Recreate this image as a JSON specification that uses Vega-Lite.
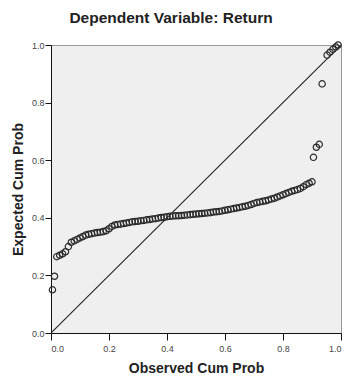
{
  "$schema": "https://vega.github.io/schema/vega-lite/v6.json",
  "autosize": "none",
  "width": 290,
  "height": 288,
  "padding": {"left": 51, "top": 45, "right": 5, "bottom": 45},
  "background": "white",
  "config": {
    "view": {"fill": "#efefef", "stroke": "#999999", "strokeWidth": 1},
    "font": "Liberation Sans"
  },
  "title": {
    "text": "Dependent Variable: Return",
    "fontSize": 15.5,
    "fontWeight": "bold",
    "color": "#222222",
    "anchor": "middle",
    "dx": -25,
    "offset": 13,
    "font": "Liberation Sans"
  },
  "datasets": {
    "pts": [
      {"obs": 0.005, "exp": 0.15}, {"obs": 0.012, "exp": 0.197}, {"obs": 0.02, "exp": 0.265},
      {"obs": 0.03, "exp": 0.27}, {"obs": 0.04, "exp": 0.275}, {"obs": 0.05, "exp": 0.282},
      {"obs": 0.06, "exp": 0.3}, {"obs": 0.07, "exp": 0.315}, {"obs": 0.08, "exp": 0.32},
      {"obs": 0.09, "exp": 0.325}, {"obs": 0.1, "exp": 0.33}, {"obs": 0.11, "exp": 0.335},
      {"obs": 0.12, "exp": 0.34}, {"obs": 0.13, "exp": 0.343}, {"obs": 0.14, "exp": 0.345},
      {"obs": 0.15, "exp": 0.347}, {"obs": 0.16, "exp": 0.349}, {"obs": 0.17, "exp": 0.35},
      {"obs": 0.18, "exp": 0.352}, {"obs": 0.19, "exp": 0.355}, {"obs": 0.2, "exp": 0.362},
      {"obs": 0.21, "exp": 0.37}, {"obs": 0.22, "exp": 0.375}, {"obs": 0.23, "exp": 0.377},
      {"obs": 0.24, "exp": 0.378}, {"obs": 0.25, "exp": 0.38}, {"obs": 0.26, "exp": 0.382},
      {"obs": 0.27, "exp": 0.384}, {"obs": 0.28, "exp": 0.386}, {"obs": 0.29, "exp": 0.387},
      {"obs": 0.3, "exp": 0.388}, {"obs": 0.31, "exp": 0.39}, {"obs": 0.32, "exp": 0.391},
      {"obs": 0.33, "exp": 0.393}, {"obs": 0.34, "exp": 0.394}, {"obs": 0.35, "exp": 0.396},
      {"obs": 0.36, "exp": 0.397}, {"obs": 0.37, "exp": 0.399}, {"obs": 0.38, "exp": 0.401},
      {"obs": 0.39, "exp": 0.402}, {"obs": 0.4, "exp": 0.404}, {"obs": 0.41, "exp": 0.405},
      {"obs": 0.42, "exp": 0.406}, {"obs": 0.43, "exp": 0.407}, {"obs": 0.44, "exp": 0.407},
      {"obs": 0.45, "exp": 0.408}, {"obs": 0.46, "exp": 0.409}, {"obs": 0.47, "exp": 0.41},
      {"obs": 0.48, "exp": 0.411}, {"obs": 0.49, "exp": 0.412}, {"obs": 0.5, "exp": 0.413},
      {"obs": 0.51, "exp": 0.414}, {"obs": 0.52, "exp": 0.415}, {"obs": 0.53, "exp": 0.416},
      {"obs": 0.54, "exp": 0.417}, {"obs": 0.55, "exp": 0.418}, {"obs": 0.56, "exp": 0.42},
      {"obs": 0.57, "exp": 0.421}, {"obs": 0.58, "exp": 0.422}, {"obs": 0.59, "exp": 0.424},
      {"obs": 0.6, "exp": 0.426}, {"obs": 0.61, "exp": 0.428}, {"obs": 0.62, "exp": 0.43},
      {"obs": 0.63, "exp": 0.432}, {"obs": 0.64, "exp": 0.434}, {"obs": 0.65, "exp": 0.436},
      {"obs": 0.66, "exp": 0.438}, {"obs": 0.67, "exp": 0.44}, {"obs": 0.68, "exp": 0.443},
      {"obs": 0.69, "exp": 0.446}, {"obs": 0.7, "exp": 0.45}, {"obs": 0.71, "exp": 0.453},
      {"obs": 0.72, "exp": 0.455}, {"obs": 0.73, "exp": 0.457}, {"obs": 0.74, "exp": 0.459},
      {"obs": 0.75, "exp": 0.462}, {"obs": 0.76, "exp": 0.465}, {"obs": 0.77, "exp": 0.468},
      {"obs": 0.78, "exp": 0.472}, {"obs": 0.79, "exp": 0.476}, {"obs": 0.8, "exp": 0.48},
      {"obs": 0.81, "exp": 0.484}, {"obs": 0.82, "exp": 0.488}, {"obs": 0.83, "exp": 0.492},
      {"obs": 0.84, "exp": 0.495}, {"obs": 0.85, "exp": 0.498}, {"obs": 0.86, "exp": 0.502},
      {"obs": 0.87, "exp": 0.508}, {"obs": 0.88, "exp": 0.515}, {"obs": 0.89, "exp": 0.52},
      {"obs": 0.9, "exp": 0.525}, {"obs": 0.905, "exp": 0.61}, {"obs": 0.915, "exp": 0.645},
      {"obs": 0.925, "exp": 0.655}, {"obs": 0.935, "exp": 0.865}, {"obs": 0.952, "exp": 0.965},
      {"obs": 0.962, "exp": 0.975}, {"obs": 0.972, "exp": 0.985}, {"obs": 0.982, "exp": 0.993},
      {"obs": 0.99, "exp": 1.0}
    ],
    "diag": [
      {"obs": 0, "exp": 0}, {"obs": 1, "exp": 1}
    ]
  },
  "layer": [
    {
      "data": {"name": "diag"},
      "mark": {"type": "line", "color": "#222222", "strokeWidth": 1.1, "clip": true},
      "encoding": {
        "x": {"field": "obs", "type": "quantitative"},
        "y": {"field": "exp", "type": "quantitative"}
      }
    },
    {
      "data": {"name": "pts"},
      "mark": {"type": "point", "shape": "circle", "filled": false, "size": 40, "stroke": "#2a2a2a", "strokeWidth": 1.2, "opacity": 1, "clip": false},
      "encoding": {
        "x": {
          "field": "obs", "type": "quantitative",
          "scale": {"domain": [0, 1], "nice": false, "zero": false},
          "axis": {
            "title": "Observed Cum Prob", "values": [0, 0.2, 0.4, 0.6, 0.8, 1.0], "format": ".1f",
            "grid": false, "domainColor": "#111111", "tickColor": "#111111", "tickSize": 7,
            "labelFontSize": 9, "labelColor": "#444444", "labelPadding": 4,
            "titleFontSize": 14, "titleFontWeight": "bold", "titleColor": "#222222", "titlePadding": 8
          }
        },
        "y": {
          "field": "exp", "type": "quantitative",
          "scale": {"domain": [0, 1], "nice": false, "zero": false},
          "axis": {
            "title": "Expected Cum Prob", "values": [0, 0.2, 0.4, 0.6, 0.8, 1.0], "format": ".1f",
            "grid": false, "domainColor": "#111111", "tickColor": "#111111", "tickSize": 6,
            "labelFontSize": 9, "labelColor": "#444444", "labelPadding": 1,
            "titleFontSize": 14, "titleFontWeight": "bold", "titleColor": "#222222", "titlePadding": 6
          }
        }
      }
    }
  ]
}
